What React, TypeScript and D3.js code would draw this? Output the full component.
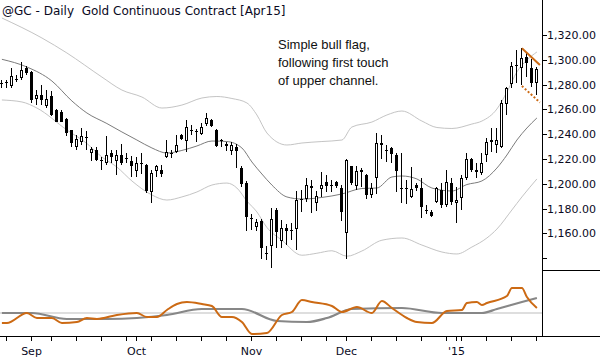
import React from 'react';
import * as d3 from 'd3';

// daily bars, one per trading day from Aug 22 2014 to Jan 26 2015: [open, high, low, close]
const ohlc: [number, number, number, number][] = [
  [1281.5, 1284, 1277, 1281], [1281, 1284, 1277, 1282], [1279, 1293, 1277, 1287], [1284.5, 1288, 1282, 1283.5],
  [1285, 1298, 1284, 1292], [1293, 1295, 1288, 1289], [1290.5, 1291, 1265, 1267.5], [1268, 1275.5, 1263.5, 1271.5],
  [1272, 1279.5, 1263.5, 1267.5], [1263, 1275.5, 1261, 1268], [1271, 1274.5, 1254.5, 1255.5], [1259.5, 1260, 1249.5, 1250],
  [1258, 1259.5, 1249.5, 1250], [1252, 1253, 1238.5, 1241], [1243, 1243.5, 1230, 1233], [1230, 1239.5, 1227.5, 1236.5],
  [1234, 1245, 1231.5, 1238.5], [1237.5, 1242.5, 1227.5, 1237.8], [1224.5, 1230, 1218, 1228], [1227.5, 1230, 1218, 1219.5],
  [1219.5, 1222, 1211, 1219.2], [1216.5, 1238.5, 1215, 1223], [1224.5, 1227.5, 1216.5, 1221.5], [1218.5, 1227.5, 1207, 1223],
  [1223, 1232.5, 1215, 1217], [1220.3, 1224.5, 1216.5, 1220.7], [1218, 1222.5, 1205.5, 1214], [1210.5, 1222, 1205.5, 1216.5],
  [1216.5, 1225, 1208, 1216], [1215, 1216, 1192.5, 1194], [1193, 1211, 1184.5, 1208.5], [1210, 1215, 1205.5, 1214],
  [1211, 1215, 1205.5, 1208], [1221.5, 1235.5, 1220.5, 1226], [1224.5, 1227.5, 1220.5, 1225], [1226, 1239.5, 1224.5, 1231.5],
  [1239, 1240.5, 1235, 1236.5], [1234.5, 1251.5, 1226, 1246], [1243.2, 1247.5, 1239.5, 1243.6], [1242.3, 1244, 1234, 1242.8],
  [1240.5, 1249, 1239.5, 1246], [1248, 1257.5, 1247, 1253], [1251.5, 1252.5, 1246, 1247], [1243.5, 1244, 1230, 1230.5],
  [1235.3, 1236.5, 1230, 1235], [1232, 1233.5, 1226.5, 1230.5], [1226.5, 1234, 1223, 1231.5], [1230, 1232, 1212.5, 1226.5],
  [1213, 1214, 1197.5, 1200], [1201, 1202, 1162, 1173.5], [1172.2, 1176, 1162.5, 1172.6], [1165.5, 1172, 1162, 1169.5],
  [1170, 1171.5, 1139.5, 1148], [1144.2, 1149.5, 1138.5, 1144], [1149.5, 1180.5, 1132, 1172], [1179, 1180.5, 1148, 1161.5],
  [1153.5, 1171, 1148, 1164], [1164, 1167.6, 1150.7, 1162], [1162.5, 1168, 1155, 1162.8], [1163.5, 1194, 1146.5, 1187],
  [1187, 1195, 1177, 1187.4], [1187.5, 1205, 1185.5, 1199], [1198.2, 1203, 1176.2, 1196.4], [1184.5, 1194, 1178, 1190.5],
  [1195.5, 1209.5, 1189.5, 1199], [1201.5, 1207, 1193.5, 1198], [1199, 1203, 1193.5, 1199.2], [1201.5, 1202.5, 1197, 1198.5],
  [1196.5, 1199, 1170, 1177.5], [1160, 1220, 1139, 1219], [1214, 1214.5, 1199, 1201], [1198, 1214, 1195, 1210],
  [1210.8, 1212.5, 1197.7, 1209.5], [1207, 1208, 1188, 1191], [1191, 1200.5, 1188.5, 1196.5], [1204.5, 1241, 1192, 1232.7],
  [1232.7, 1239.5, 1220, 1231], [1227.3, 1231.5, 1217.8, 1227], [1228.5, 1230, 1216.5, 1224], [1223, 1224.5, 1193.5, 1210],
  [1196.6, 1224.5, 1184.3, 1196.2], [1196.4, 1203, 1184, 1196.2], [1189.6, 1213.8, 1188.3, 1195.6], [1199, 1200.4, 1194, 1196.4],
  [1196.4, 1205, 1172.2, 1181.5], [1178.6, 1182.9, 1175.6, 1178.3], [1177.5, 1178.5, 1173, 1174], [1185.6, 1197.7, 1184.3, 1196.4],
  [1195, 1200.4, 1180.3, 1182.9], [1182.9, 1211, 1181.5, 1201.7], [1200.4, 1204.4, 1182.9, 1185.6], [1184.3, 1197.7, 1168, 1186.9],
  [1188.3, 1207, 1178.9, 1204.4], [1204.4, 1224.6, 1203, 1219.8], [1219.8, 1221, 1209.8, 1211.1], [1211.5, 1216.5, 1204.4, 1209.8],
  [1208.5, 1225, 1207, 1216.5], [1223.2, 1236.7, 1217.8, 1234], [1235.3, 1244.8, 1226, 1234], [1231.3, 1244.8, 1225, 1235.3],
  [1230, 1267.6, 1228.6, 1265.3], [1264.1, 1278.3, 1255.5, 1277], [1280.5, 1298.5, 1277, 1295], [1295.2, 1308, 1281, 1295.5],
  [1293.1, 1309.3, 1279.7, 1301.3], [1302.5, 1305.2, 1286.4, 1297.2], [1293.1, 1300.4, 1278.3, 1281], [1281, 1294.4, 1271.6, 1292.3],
];

// channel (bollinger) readings: [bar, price]
const upperBand: [number, number][] = [
  [0, 1333.7], [8, 1317.6], [13, 1305.5], [20, 1286.1], [24, 1275.6], [28, 1270], [32, 1261.1], [36, 1263.5],
  [40, 1269.2], [43, 1270.4], [46, 1268.8], [49, 1265.2], [51, 1255.5], [53, 1241], [57, 1231.3], [60, 1232.9],
  [64, 1234.1], [68, 1235.3], [70, 1245.8], [74, 1249.8], [77, 1255.5], [80, 1258.7], [84, 1250.6], [87, 1245.4],
  [90, 1244.6], [94, 1248.2], [96, 1250.6], [99, 1260.3], [101, 1274], [103, 1290.2], [105, 1299.8], [107, 1306.3],
];
const middleBand: [number, number][] = [
  [0, 1300.4], [5, 1294.2], [10, 1282.9], [14, 1266.8], [17, 1257.1], [21, 1248.6], [24, 1241.8], [27, 1235.3],
  [30, 1228.9], [33, 1224.8], [36, 1226.9], [39, 1230.5], [42, 1234.5], [45, 1234.1], [48, 1228.9], [50, 1217.6],
  [52, 1207.9], [54, 1199], [57, 1189.4], [60, 1187.7], [64, 1189], [68, 1191.8], [72, 1196.2], [75, 1196.6],
  [78, 1205.5], [80, 1206.3], [83, 1203.9], [86, 1196.6], [90, 1194.2], [93, 1199.4], [96, 1202.3], [99, 1212.7],
  [101, 1223.2], [103, 1235.3], [105, 1245], [107, 1253.1],
];
const lowerBand: [number, number][] = [
  [0, 1267.6], [4, 1266], [7, 1261.1], [13, 1243.4], [17, 1232.5], [20, 1221.6], [23, 1213.5], [26, 1202.3],
  [30, 1191], [33, 1186.9], [36, 1189.4], [39, 1193.4], [42, 1199], [45, 1200.6], [47, 1196.6], [49, 1186.1],
  [51, 1177.3], [53, 1164.8], [56, 1154.5], [60, 1142.4], [63, 1144], [66, 1146], [69, 1141.6], [72, 1145.8],
  [76, 1154.5], [80, 1156.3], [84, 1150.6], [88, 1145], [91, 1143.4], [94, 1149], [97, 1156.3], [99, 1163.5],
  [102, 1178.9], [104, 1189.4], [107, 1203.9],
];

// oscillator panel: [bar, value]
const fastLine: [number, number][] = [
  [0, -1.0], [1, -1.0], [5, 0.0], [7, -0.5], [10, -0.5], [12, -1.0], [15, -0.9], [17, -0.5], [19, -0.6],
  [23, -0.2], [27, 0.0], [29, -0.4], [31, -0.4], [33, 0.3], [35, 0.9], [37, 1.1], [40, 0.9], [42, 0.7],
  [44, -0.4], [46, -0.4], [48, -0.9], [50, -2.1], [53, -2.0], [56, -0.2], [58, 0.1], [60, 1.3], [62, 1.1],
  [66, 0.7], [68, 0.1], [71, 0.6], [74, 0.0], [76, 1.2], [78, 0.5], [81, -0.5], [83, -0.9], [86, -1.0],
  [89, 0.2], [92, 0.3], [93, 1.0], [95, 1.1], [96, 0.8], [97, 1.0], [101, 1.7], [102, 2.5], [104, 2.5],
  [105, 1.6], [107, 0.5],
];
const slowLine: [number, number][] = [
  [0, 0.0], [6, 0.0], [13, -0.6], [21, -0.6], [27, -0.5], [33, -0.2], [40, 0.4], [48, 0.4], [55, -0.8],
  [61, -0.9], [65, -0.5], [70, 0.4], [80, 0.5], [88, 0.0], [96, 0.0], [99, 0.4], [104, 1.1], [107, 1.5],
];

// flag drawn on the last bars: [bar, price]
const flagTop: [number, number][] = [[104, 1309.3], [107.6, 1295.8]];
const flagBottom: [number, number][] = [[104, 1278.9], [107.6, 1265.6]];

const priceTicks = [1140, 1160, 1180, 1200, 1220, 1240, 1260, 1280, 1300, 1320];
const weekTicks = [1, 6, 10, 15, 20, 25, 27, 30, 35, 40, 45, 50, 55, 60, 65, 69, 74, 79, 84, 89, 91, 92, 97, 102, 107];
const monthBars = [6, 27, 50, 69, 91];
const monthLabels = ['Sep', 'Oct', 'Nov', 'Dec', "'15"];

const note = ['Simple bull flag,', 'following first touch', 'of upper channel.'];

const W = 600;
const H = 360;
const axisX = 542.5;
const panelTop = 270.5;
const baseY = 336.5;

const ORANGE = '#cc6a14';

export default function App() {
  const x = d3.scaleLinear().domain([0, 107]).range([1.9, 536.9]);
  const y = d3.scaleLinear().domain([1140, 1320]).range([258.2, 35]);
  const yOsc = d3.scaleLinear().domain([-2.4, 4.3]).range([337, 270]);

  const bandLine = d3.line<[number, number]>()
    .x(d => x(d[0]))
    .y(d => y(d[1]))
    .curve(d3.curveMonotoneX);
  const oscLine = d3.line<[number, number]>()
    .x(d => x(d[0]))
    .y(d => yOsc(d[1]))
    .curve(d3.curveMonotoneX);
  const fmt = d3.format(',.2f');
  const px = (i: number) => Math.floor(x(i)) + 0.5;

  return (
    <svg width={W} height={H} style={{ position: 'absolute', left: 0, top: 0, background: '#fff' }}>
      <rect width={W} height={H} fill="#fff" />

      {/* channel */}
      <path d={bandLine(upperBand) || ''} fill="none" stroke="#c4c4c4" strokeWidth={1} />
      <path d={bandLine(lowerBand) || ''} fill="none" stroke="#c4c4c4" strokeWidth={1} />
      <path d={bandLine(middleBand) || ''} fill="none" stroke="#7c7c7c" strokeWidth={1} />

      {/* candles */}
      <g shapeRendering="crispEdges">
        {ohlc.map(([o, h, l, c], i) => {
          const cx = px(i);
          const top = Math.round(y(Math.max(o, c)));
          const bot = Math.round(y(Math.min(o, c)));
          const up = c >= o;
          return (
            <g key={i}>
              <line x1={cx} x2={cx} y1={Math.round(y(h))} y2={Math.round(y(l))} stroke="#000" strokeWidth={1} />
              {bot - top < 2 ? (
                <line x1={cx - 1.5} x2={cx + 1.5} y1={top + 0.5} y2={top + 0.5} stroke="#000" strokeWidth={1} />
              ) : (
                <rect x={cx - 1} y={top + 0.5} width={2} height={bot - top - 1}
                  fill={up ? '#fff' : '#000'} stroke="#000" strokeWidth={1} />
              )}
            </g>
          );
        })}
      </g>

      {/* bull flag */}
      <path d={bandLine.curve(d3.curveLinear)(flagTop) || ''} stroke={ORANGE} strokeWidth={2} fill="none" />
      <path d={bandLine.curve(d3.curveLinear)(flagBottom) || ''} stroke={ORANGE} strokeWidth={2}
        strokeDasharray="2,2" fill="none" />

      {/* oscillator */}
      <line x1={0} x2={axisX} y1={yOsc(0)} y2={yOsc(0)} stroke="#bdbdbd" strokeWidth={1} />
      <path d={oscLine(slowLine) || ''} fill="none" stroke="#878787" strokeWidth={2.2} />
      <path d={oscLine(fastLine) || ''} fill="none" stroke={ORANGE} strokeWidth={2} />

      {/* frame */}
      <g shapeRendering="crispEdges" stroke="#000" strokeWidth={1}>
        <line x1={axisX} x2={axisX} y1={0} y2={baseY} />
        <line x1={axisX} x2={W} y1={panelTop} y2={panelTop} />
        <line x1={0} x2={W} y1={baseY} y2={baseY} />
        {priceTicks.map(t => (
          <line key={t} x1={axisX} x2={axisX + 4} y1={Math.round(y(t)) + 0.5} y2={Math.round(y(t)) + 0.5} />
        ))}
        {weekTicks.map(b => (
          <line key={b} x1={px(b)} x2={px(b)} y1={baseY} y2={baseY + 4} />
        ))}
      </g>

      <g fontFamily="DejaVu Sans" fontSize={11} fill="#0a0a1e">
        {priceTicks.filter(t => t >= 1160).map(t => (
          <text key={t} x={547} y={y(t)} dy="0.36em">{fmt(t)}</text>
        ))}
        {monthBars.map((b, k) => (
          <text key={b} x={px(b)} y={355} textAnchor="middle">{monthLabels[k]}</text>
        ))}
      </g>

      <text x={2} y={15} fontFamily="DejaVu Sans" fontSize={12} fill="#0a0a1e" xmlSpace="preserve">
        @GC - Daily  Gold Continuous Contract [Apr15]
      </text>

      <g fontFamily="Liberation Sans" fontSize={13} fill="#111">
        {note.map((s, k) => (
          <text key={k} x={278} y={49 + k * 18}>{s}</text>
        ))}
      </g>
    </svg>
  );
}
